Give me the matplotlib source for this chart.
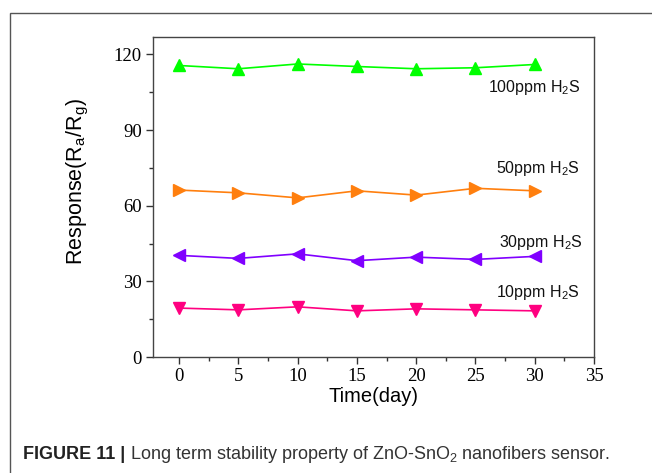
import numpy as np
import matplotlib
matplotlib.use("Agg")
import matplotlib.pyplot as plt
from matplotlib.patches import Rectangle
from matplotlib.ticker import MultipleLocator

# data
days = [0, 5, 10, 15, 20, 25, 30]
resp_100 = [115.6, 114.3, 116.2, 115.2, 114.3, 114.7, 116.0]
resp_50 = [66.2, 65.1, 63.1, 65.9, 64.2, 66.9, 65.9]
resp_30 = [40.3, 39.1, 40.9, 38.2, 39.6, 38.7, 39.9]
resp_10 = [19.4, 18.7, 19.9, 18.3, 19.1, 18.7, 18.3]

labels = ["100ppm H$_2$S", "50ppm H$_2$S", "30ppm H$_2$S", "10ppm H$_2$S"]
label_pos = [(26.1, 105.0), (26.7, 72.9), (27.0, 43.8), (26.7, 23.9)]

plt.rcParams["mathtext.fontset"] = "custom"
plt.rcParams["mathtext.rm"] = "Liberation Sans"
plt.rcParams["mathtext.it"] = "Liberation Sans:italic"
plt.rcParams["mathtext.bf"] = "Liberation Sans:bold"

fig = plt.figure(figsize=(6.52, 4.73), dpi=100)
W, H = 652, 473

# outer frame (cropped on right and bottom)
fig.patches.append(Rectangle((10 / W, -0.1), 1.2, (473 - 13) / H + 0.1,
                             transform=fig.transFigure, fill=False,
                             ec="#555555", lw=1.0))

ax = fig.add_axes([153 / W, 1 - 357 / H, (594 - 153) / W, (357 - 37.5) / H])

series = [
    (resp_100, "^", "#00ff00"),
    (resp_50, ">", "#ff7f0e"),
    (resp_30, "<", "#8000ff"),
    (resp_10, "v", "#ff0080"),
]
for vals, m, c in series:
    ax.plot(days, vals, color=c, marker=m, ms=9, lw=1.2, mec=c, mfc=c)

for lab, (x, y) in zip(labels, label_pos):
    ax.text(x, y, lab, fontsize=11.5, family="Liberation Sans",
            ha="left", va="baseline", color="#111111")

ax.set_xlim(-2.2, 35)
ax.set_ylim(0, 126.7)
ax.xaxis.set_major_locator(MultipleLocator(5))
ax.xaxis.set_minor_locator(MultipleLocator(2.5))
ax.yaxis.set_major_locator(MultipleLocator(30))
ax.yaxis.set_minor_locator(MultipleLocator(15))
ax.tick_params(which="both", direction="out", top=False, right=False,
               color="#333333", width=1.0)
ax.tick_params(which="major", length=5, labelsize=13.5, pad=3)
ax.tick_params(which="minor", length=3)
for lbl in ax.get_xticklabels() + ax.get_yticklabels():
    lbl.set_family("Liberation Serif")
for s in ax.spines.values():
    s.set_color("#444444")
    s.set_linewidth(1.0)

ax.set_xlabel("Time(day)", fontsize=14.5, family="Liberation Sans", labelpad=1)
ax.set_ylabel(r"Response(R$_\mathrm{a}$/R$_\mathrm{g}$)", fontsize=15.5,
              family="Liberation Sans")
ax.yaxis.set_label_coords(-0.14, 0.55)

# caption
t1 = fig.text(23 / W, 1 - 459 / H, "FIGURE 11 |", fontsize=13, weight="bold",
              family="Liberation Sans", color="#222222", va="baseline")
fig.canvas.draw()
bb = t1.get_window_extent()
fig.text(bb.x1 / W + 5 / W, 1 - 459 / H,
         "Long term stability property of ZnO-SnO$_2$ nanofibers sensor.",
         fontsize=13, family="Liberation Sans", color="#333333", va="baseline")

fig.savefig("out.png", dpi=100)
